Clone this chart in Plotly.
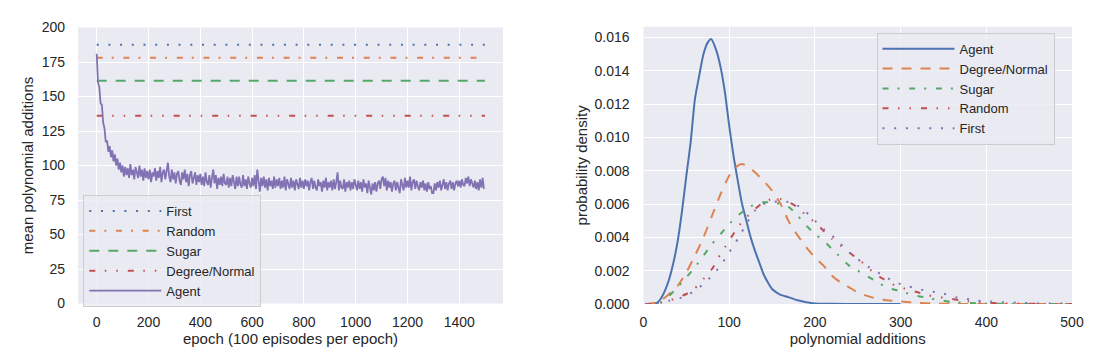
import plotly.graph_objects as go

# ---------------- left panel data ----------------
epochs = list(range(0, 1500, 5))
agent_mean = [
    181, 160, 157, 145, 144, 131, 127, 117, 118, 110, 114, 106, 111, 103, 108, 100, 105, 97, 102, 95,
    100, 92, 99, 93, 98, 91, 101, 93, 97, 90, 99, 94, 91, 100, 92, 97, 89, 98, 91, 96,
    90, 97, 88, 95, 92, 98, 89, 96, 91, 99, 88, 95, 97, 90, 96, 102, 92, 88, 97, 90,
    95, 87, 94, 96, 89, 86, 95, 90, 97, 88, 94, 85, 93, 96, 87, 92, 95, 86, 93, 88,
    94, 86, 92, 85, 95, 88, 86, 93, 84, 91, 97, 87, 93, 83, 91, 86, 92, 85, 94, 87,
    86, 92, 84, 91, 85, 93, 87, 83, 92, 85, 92, 86, 84, 93, 85, 90, 83, 92, 87, 84,
    91, 85, 93, 83, 97, 87, 81, 91, 85, 92, 84, 90, 82, 91, 85, 89, 83, 92, 84, 90,
    85, 91, 83, 89, 84, 92, 82, 90, 86, 83, 91, 84, 89, 82, 90, 86, 83, 91, 84, 89,
    83, 90, 85, 89, 82, 88, 91, 83, 89, 84, 82, 90, 85, 88, 81, 89, 84, 91, 82, 88,
    84, 89, 82, 90, 83, 88, 95, 82, 89, 84, 83, 90, 81, 88, 84, 89, 82, 88, 83, 90,
    85, 82, 89, 83, 88, 81, 90, 84, 87, 80, 89, 83, 79, 87, 82, 88, 81, 87, 89, 83,
    90, 92, 85, 91, 82, 89, 84, 88, 81, 87, 89, 82, 88, 84, 80, 90, 85, 82, 91, 84,
    89, 84, 92, 82, 88, 90, 83, 89, 85, 82, 88, 84, 89, 82, 87, 81, 88, 83, 85, 80,
    80, 87, 82, 88, 84, 89, 82, 87, 90, 83, 88, 82, 87, 89, 83, 88, 82, 87, 89, 85,
    89, 84, 90, 86, 85, 91, 87, 92, 85, 90, 86, 84, 89, 83, 88, 82, 90, 84, 91, 83,
]
baseline_span = [0, 1499]
first_level = 187.5
random_level = 178.0
sugar_level = 161.5
degree_level = 136.0

left_xticks = [0, 200, 400, 600, 800, 1000, 1200, 1400]
left_yticks = [0, 25, 50, 75, 100, 125, 150, 175, 200]

# ---------------- right panel data (density curves) ----------------
agent_x = [2, 10, 15, 20, 25, 30, 35, 40, 45, 50, 55, 60, 65, 70, 75, 79, 85, 90, 95, 100,
           105, 110, 115, 120, 125, 130, 135, 140, 145, 150, 155, 160, 170, 180, 190, 200, 220, 250, 300]
agent_d = [0, 0.00001, 0.00005, 0.0003, 0.0008, 0.0015, 0.0025, 0.0038, 0.0056, 0.0077,
           0.0097, 0.0123, 0.0137, 0.0150, 0.0157, 0.0159, 0.0152, 0.0142, 0.0127, 0.0107,
           0.0089, 0.0074, 0.0060, 0.0050, 0.0040, 0.0032, 0.0025, 0.0018, 0.0013, 0.0009,
           0.0007, 0.00055, 0.0004, 0.00022, 0.0001, 0.00003, 0.00001, 0, 0]

degree_x = [2, 10, 20, 30, 40, 50, 60, 70, 80, 90, 100, 110, 115, 120, 130, 140, 150, 160, 170, 180,
            190, 200, 210, 220, 230, 240, 250, 260, 270, 280, 300, 320, 340, 360, 400, 450, 500]
degree_d = [0, 0.00003, 0.0002, 0.0006, 0.0011, 0.0019, 0.0029, 0.0040, 0.0053, 0.0066,
            0.0077, 0.0083, 0.0084, 0.0083, 0.0079, 0.0074, 0.0068, 0.0060, 0.0049, 0.0041,
            0.0034, 0.0028, 0.0023, 0.0017, 0.0013, 0.0010, 0.0007, 0.0005, 0.00035, 0.00026,
            0.00015, 0.00007, 0.00003, 0.00001, 0, 0, 0]

sugar_x = [2, 15, 20, 25, 30, 35, 40, 50, 60, 70, 80, 90, 100, 110, 120, 130, 140, 150, 160, 170,
           180, 190, 200, 210, 220, 230, 240, 250, 260, 270, 280, 290, 300, 310, 320, 330, 340, 350,
           360, 380, 400, 420, 450, 500]
sugar_d = [0, 0.00002, 0.0001, 0.0003, 0.0005, 0.00075, 0.001, 0.0016, 0.0022, 0.0029,
           0.0036, 0.0042, 0.0048, 0.0053, 0.0057, 0.0060, 0.0061, 0.0061, 0.0060, 0.0058,
           0.0053, 0.0047, 0.0042, 0.0038, 0.0033, 0.0028, 0.0023, 0.0020, 0.0017, 0.0014,
           0.0011, 0.0009, 0.00077, 0.0006, 0.00048, 0.00038, 0.00028, 0.0002, 0.00012, 0.00006,
           0.00003, 0.00001, 0, 0]

random_x = [2, 10, 20, 30, 40, 50, 60, 70, 80, 90, 100, 110, 120, 130, 140, 150, 160, 170, 180, 190,
            200, 210, 220, 230, 240, 250, 260, 270, 280, 290, 300, 310, 320, 330, 340, 350, 360, 370,
            380, 390, 400, 420, 440, 460, 500]
random_d = [0, 0.00002, 0.00008, 0.0002, 0.0004, 0.0006, 0.00095, 0.0015, 0.0021, 0.0030,
            0.0038, 0.0046, 0.0052, 0.0057, 0.0061, 0.0063, 0.0063, 0.0061, 0.0058, 0.0053,
            0.0049, 0.0044, 0.0039, 0.0035, 0.0031, 0.0027, 0.0023, 0.0018, 0.0015, 0.0012,
            0.0010, 0.00085, 0.0007, 0.00055, 0.00044, 0.00038, 0.0003, 0.00022, 0.00016, 0.0001,
            0.00007, 0.00004, 0.00002, 0.00001, 0]

first_x = [2, 20, 30, 40, 50, 60, 70, 80, 90, 100, 110, 120, 130, 140, 150, 160, 170, 180, 190, 200,
           210, 220, 230, 240, 250, 260, 270, 280, 290, 300, 310, 320, 330, 340, 350, 360, 370, 380,
           390, 400, 420, 440, 460, 480, 500]
first_d = [0, 0.00005, 0.0002, 0.0003, 0.0005, 0.0008, 0.0012, 0.0017, 0.0023, 0.0031,
           0.0039, 0.0048, 0.0056, 0.0060, 0.0061, 0.0062, 0.0061, 0.0059, 0.0055, 0.0050,
           0.0045, 0.0041, 0.0036, 0.0031, 0.0027, 0.0023, 0.0020, 0.0017, 0.0014, 0.0012,
           0.00105, 0.0009, 0.0008, 0.00072, 0.00063, 0.00045, 0.00035, 0.00028, 0.0002, 0.00016,
           0.00011, 0.00007, 0.00005, 0.00003, 0.00002]

right_xticks = [0, 100, 200, 300, 400, 500]
right_yticks = [0, 0.002, 0.004, 0.006, 0.008, 0.010, 0.012, 0.014, 0.016]

# ---------------- styles ----------------
BLUE = "#4C72B0"
ORANGE = "#DD8452"
GREEN = "#55A868"
RED = "#C44E52"
PURPLE = "#8172B3"
BG = "#EAEAF2"
TXT = "#262626"
FONT = "Liberation Sans, Arial, sans-serif"

DOT = "2px,9.7px"
DASHDOT = "6px,9px,2px,9.7px"
DASH = "10px,9px"
DASHDOTDOT = "6px,9.5px,1.5px,10px,1.5px,10px"

fig = go.Figure()

# left panel
for name, lvl, col, dash in [
    ("First", first_level, BLUE, DOT),
    ("Random", random_level, ORANGE, DASHDOT),
    ("Sugar", sugar_level, GREEN, DASH),
    ("Degree/Normal", degree_level, RED, DASHDOTDOT),
]:
    fig.add_trace(go.Scatter(
        x=baseline_span, y=[lvl, lvl], mode="lines", name=name,
        line=dict(color=col, width=2, dash=dash),
        xaxis="x", yaxis="y", legend="legend",
    ))
fig.add_trace(go.Scatter(
    x=epochs, y=agent_mean, mode="lines", name="Agent",
    line=dict(color=PURPLE, width=1.8),
    xaxis="x", yaxis="y", legend="legend",
))

# right panel
for name, xs, ys, col, dash, w in [
    ("Agent", agent_x, agent_d, BLUE, "solid", 2),
    ("Degree/Normal", degree_x, degree_d, ORANGE, DASH, 2),
    ("Sugar", sugar_x, sugar_d, GREEN, DASHDOT, 2),
    ("Random", random_x, random_d, RED, DASHDOTDOT, 2),
    ("First", first_x, first_d, PURPLE, DOT, 2),
]:
    fig.add_trace(go.Scatter(
        x=xs, y=ys, mode="lines", name=name,
        line=dict(color=col, width=w, dash=dash, shape="spline", smoothing=0.6),
        xaxis="x2", yaxis="y2", legend="legend2",
    ))

W, H = 1103, 358
axis_common = dict(
    showgrid=True, gridcolor="white", gridwidth=1.3, zeroline=False, showline=False,
    ticks="", tickfont=dict(family=FONT, size=14, color=TXT),
    title_font=dict(family=FONT, size=15, color=TXT), automargin=False,
)

legend_common = dict(
    bgcolor="rgba(234,234,242,0.8)", bordercolor="#CCCCCC", borderwidth=1,
    font=dict(family=FONT, size=13, color=TXT), xanchor="left", yanchor="top",
    itemwidth=72, tracegroupgap=0, itemclick=False,
)

fig.update_layout(
    width=W, height=H,
    margin=dict(l=0, r=0, t=0, b=0),
    paper_bgcolor="white", plot_bgcolor=BG,
    font=dict(family=FONT, size=14, color=TXT),
    showlegend=True,
    xaxis=dict(axis_common, domain=[78 / W, 503 / W], range=[-72.2, 1568.7],
               tickvals=left_xticks, ticklabelstandoff=8,
               title=dict(text="epoch (100 episodes per epoch)", standoff=3),
               anchor="y"),
    yaxis=dict(axis_common, domain=[1 - 303.5 / H, 1 - 27.5 / H], range=[0, 200],
               tickvals=left_yticks, ticklabelstandoff=12,
               title=dict(text="mean polynomial additions", standoff=4),
               anchor="x"),
    xaxis2=dict(axis_common, domain=[643.5 / W, 1072 / W], range=[0, 500],
                tickvals=right_xticks, ticklabelstandoff=8,
                title=dict(text="polynomial additions", standoff=3),
                anchor="y2"),
    yaxis2=dict(axis_common, domain=[1 - 304 / H, 1 - 26.7 / H], range=[0, 0.01664],
                tickvals=right_yticks, tickformat=".3f", ticklabelstandoff=13,
                title=dict(text="probability density", standoff=3),
                anchor="x2"),
    legend=dict(legend_common, x=83.3 / W, y=1 - 195 / H),
    legend2=dict(legend_common, x=876.5 / W, y=1 - 32.7 / H),
)

fig.write_html(
    "out.html",
    config={"displayModeBar": False},
    post_script="document.body.style.margin='0';document.body.style.overflow='hidden';",
)
